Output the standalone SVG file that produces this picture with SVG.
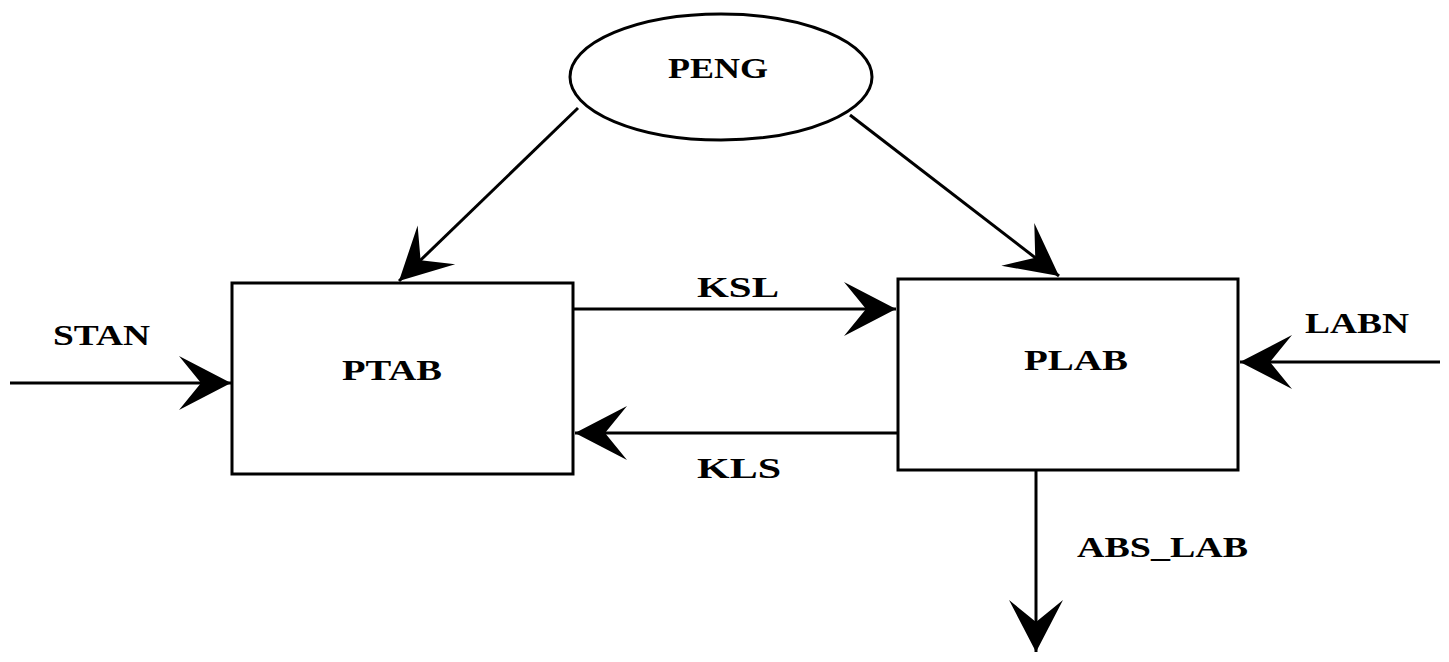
<svg xmlns="http://www.w3.org/2000/svg" width="1449" height="662" viewBox="0 0 1449 662">
  <style>
    .shape { fill: #fff; stroke: #000; stroke-width: 3; }
    .edge { fill: none; stroke: #000; stroke-width: 3; marker-end: url(#barb); }
    .label { font-family: "Liberation Serif", "Times New Roman", serif; font-weight: bold; font-size: 30px; fill: #000; }
  </style>
  <defs>
    <marker id="barb" markerUnits="userSpaceOnUse" markerWidth="60" markerHeight="60" viewBox="-55 -30 60 60" refX="0" refY="0" orient="auto">
      <path d="M0,0 L-52,-27 L-30,0 L-52,27 Z" fill="#000"/>
    </marker>
  </defs>
  <rect width="1449" height="662" fill="#fff"/>

  <g id="connectors">
    <line class="edge" x1="578" y1="108" x2="399" y2="281"/>
    <line class="edge" x1="850" y1="115" x2="1059" y2="276"/>
    <line class="edge" x1="574" y1="309" x2="896" y2="309"/>
    <line class="edge" x1="897" y1="433" x2="575" y2="433"/>
    <line class="edge" x1="10" y1="383" x2="231" y2="383"/>
    <line class="edge" x1="1440" y1="362" x2="1240" y2="362"/>
    <line class="edge" x1="1036" y1="470" x2="1036" y2="652"/>
    <text class="label" x="697" y="297" textLength="82" lengthAdjust="spacingAndGlyphs">KSL</text>
    <text class="label" x="697" y="478" textLength="84" lengthAdjust="spacingAndGlyphs">KLS</text>
    <text class="label" x="53" y="345" textLength="97" lengthAdjust="spacingAndGlyphs">STAN</text>
    <text class="label" x="1305" y="333" textLength="104" lengthAdjust="spacingAndGlyphs">LABN</text>
    <text class="label" x="1077" y="557" textLength="171" lengthAdjust="spacingAndGlyphs">ABS_LAB</text>
  </g>

  <g id="peng">
    <ellipse class="shape" cx="721" cy="77" rx="151" ry="63"/>
    <text class="label" x="668" y="78" textLength="100" lengthAdjust="spacingAndGlyphs">PENG</text>
  </g>
  <g id="ptab">
    <rect class="shape" x="232" y="283" width="341" height="191"/>
    <text class="label" x="342" y="380" textLength="100" lengthAdjust="spacingAndGlyphs">PTAB</text>
  </g>
  <g id="plab">
    <rect class="shape" x="898" y="279" width="340" height="191"/>
    <text class="label" x="1024" y="370" textLength="104" lengthAdjust="spacingAndGlyphs">PLAB</text>
  </g>
</svg>
